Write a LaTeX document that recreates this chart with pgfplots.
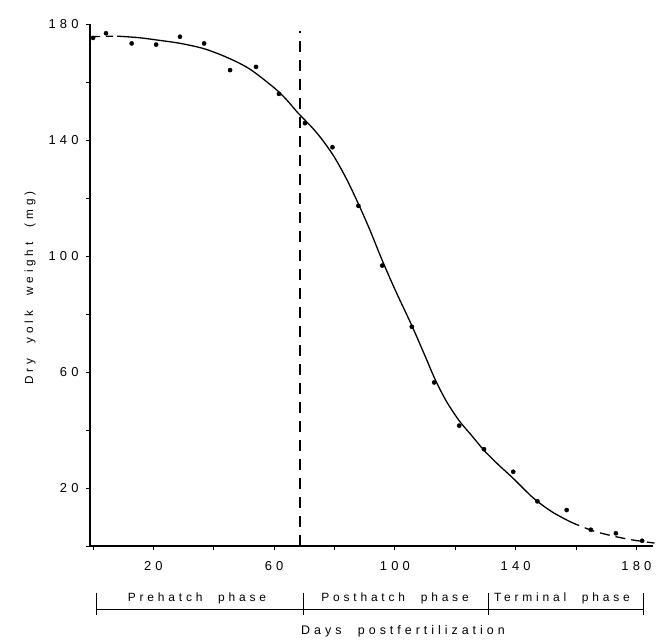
\documentclass[border=0pt]{standalone}
\usepackage{fontspec}
\setmainfont{Liberation Sans}[LetterSpace=32, WordSpace=2.2]
\usepackage{pgfplots}
\pgfplotsset{compat=1.18}
\begin{document}
\begin{tikzpicture}[x=1bp,y=1bp]
\path (-90,-98) rectangle (566,546);
\begin{axis}[at={(0,0)}, anchor=south west, scale only axis,
  width=563bp, height=522bp,
  xmin=-1, xmax=185.5, ymin=0, ymax=180,
  axis lines=left, axis line style={line width=1.6bp, -},
  xtick={0,20,...,180}, xticklabels={,20,,60,,100,,140,,180},
  ytick={0,20,...,180}, yticklabels={,20,,60,,100,,140,,180},
  tick align=outside, major tick length=4bp,
  tick style={line width=0.9bp, black},
  ticklabel style={font=\fontsize{13}{15}\selectfont},
  xticklabel style={yshift=-8bp},
  yticklabel style={xshift=-4bp},
  clip=false]
\addplot[line width=1.3bp, dash pattern=on 7bp off 6bp] coordinates {(0,175.6) (4,175.8) (8,175.8)};
\addplot[line width=1.3bp, smooth] coordinates {(8,175.8) (15,175.3) (21,174.5) (29,173.3) (37,171.4) (45,168.2) (52,164.4) (60,158) (64,154) (68,149.2) (72.4,144.5) (76,140) (80,134) (84,126.5) (87.9,118) (91.5,109.5) (95.8,98.5) (100,88.5) (105.6,76) (110,65.5) (113.3,57.5) (117,50) (121.3,43.2) (125.5,38) (129.5,33) (134,28.3) (139,23.5) (145.8,16.6) (152,11.8) (158,8.4)};
\addplot[line width=1.3bp, dash pattern=on 10bp off 6bp, smooth] coordinates {(158,8.4) (160.2,7.4) (166,5.1) (172,3.5) (178,2.2) (186,1.0)};
\addplot[only marks, mark=*, mark size=2.1bp, black] coordinates {(0,175.2) (4.3,176.8) (12.8,173.3) (20.9,172.9) (28.8,175.6) (36.8,173.3) (45.4,164.1) (54,165.2) (61.6,155.9) (70.2,145.8) (79.3,137.5) (87.9,117.3) (95.8,96.7) (105.6,75.6) (113,56.4) (121.3,41.5) (129.5,33.4) (139.2,25.6) (147.2,15.4) (156.9,12.4) (164.9,5.6) (173.2,4.4) (181.9,1.8)};
\addplot[line width=1.4bp, dash pattern=on 11bp off 8bp] coordinates {(68.6,0) (68.6,177.6)};
\end{axis}
\draw[line width=1bp] (6,-63) -- (553,-63);
\foreach \xx in {6,213,398,553} \draw[line width=1bp] (\xx,-47) -- (\xx,-69);
\node[anchor=base, font=\fontsize{12}{14}\selectfont] at (107,-55) {Prehatch phase};
\node[anchor=base, font=\fontsize{12}{14}\selectfont] at (305,-55) {Posthatch phase};
\node[anchor=base, font=\fontsize{12}{14}\selectfont] at (472,-55) {Terminal phase};
\node[anchor=base, font=\fontsize{12.5}{14}\selectfont] at (313,-88) {Days postfertilization};
\node[rotate=90, font=\fontsize{11.8}{14}\selectfont] at (-60,258) {Dry yolk weight (mg)};
\end{tikzpicture}
\end{document}
